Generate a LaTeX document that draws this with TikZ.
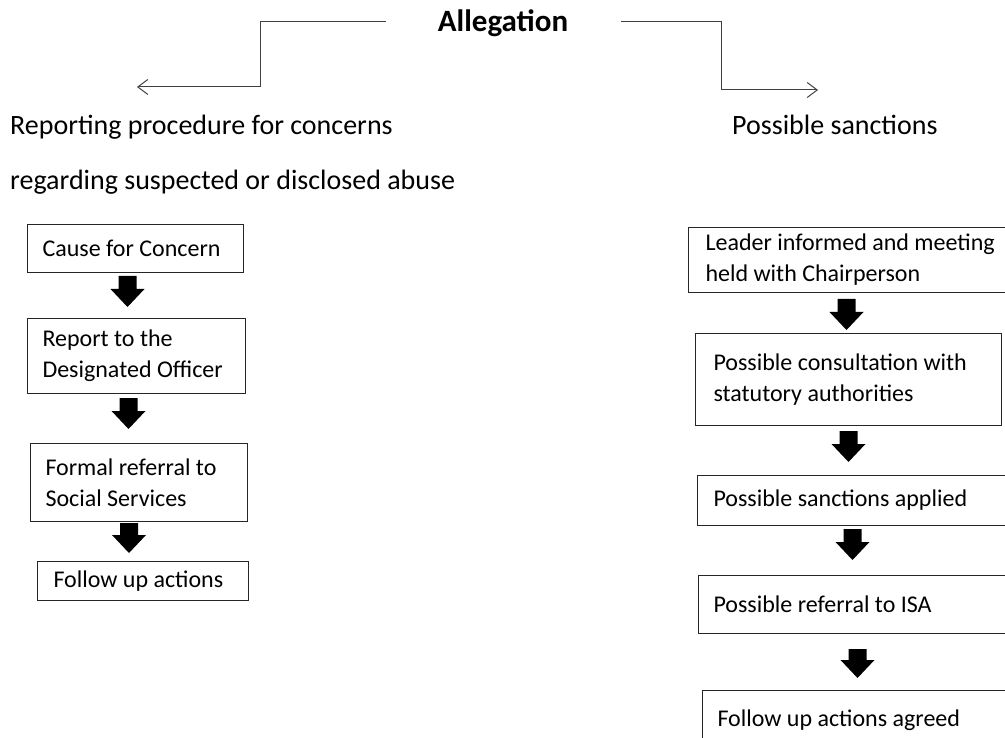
\documentclass[tikz,border=0pt]{standalone}
\usepackage{fontspec}
\setmainfont{Carlito}
\usetikzlibrary{calc,arrows.meta}

\begin{document}
\begin{tikzpicture}[x=1pt, y=-1pt,
    txt/.style={font=\fontsize{28}{34}\selectfont, inner sep=0pt, anchor=base west},
    box/.style={draw=black!85, line width=1pt, anchor=north west, align=flush left,
        font=\fontsize{24}{31}\selectfont, inner xsep=15pt, inner ysep=0pt},
    elbow/.style={draw=black!75, line width=1pt, -{Straight Barb[length=10pt, width=15pt]}},
    blockarr/.style={fill=black, to path={let \p1=(\tikztostart), \p2=(\tikztotarget) in
        (\x1-9pt,\y1) -- (\x1+9pt,\y1) -- (\x1+9pt,\y2+18pt) -- (\x1+17pt,\y2+18pt)
        -- (\x1,\y2) -- (\x1-17pt,\y2+18pt) -- (\x1-9pt,\y2+18pt) -- cycle}}]
\clip (0,0) rectangle (1005,738);
%\draw[thin, opacity=0.5] (0,0) grid[step=50] (1005,738);

%%% titre
\node[inner sep=0pt, anchor=base, font=\fontsize{31}{34}\selectfont\bfseries] (alleg) at (503,32) {Allegation};
\node[txt] (hleft1) at (10,135) {Reporting procedure for concerns};
\node[txt] (hleft2) at (10,190) {regarding suspected or disclosed abuse};
\node[txt] (hright) at (732,135) {Possible sanctions};

% free ends
\coordinate (lend) at (137,87);
\coordinate (rend) at (818,90);

% top links
\draw[elbow] ([xshift=-52pt]alleg.west |- 0,22) -| ([xshift=123pt]lend) -- (lend);
\draw[elbow] ([xshift=53pt]alleg.east |- 0,22) -| ([xshift=-97pt]rend) -- (rend);

%%% left column
\node[box, text width=186pt, minimum height=48pt] (lb1) at (27,224) {Cause for Concern};
\node[box, text width=188pt, minimum height=75pt] (lb2) at (27,318) {Report to the\\Designated Officer};
\node[box, text width=187pt, minimum height=78pt] (lb3) at (30,443) {Formal referral to\\Social Services};
\node[box, text width=179pt, inner xsep=16pt, minimum height=39pt] (lb4) at (37,561) {Follow up actions};

\path[blockarr] ([xshift=-8pt, yshift=-3pt]lb1.south) to ([xshift=-8pt, yshift=11pt]lb2.north);
\path[blockarr] ([xshift=-8pt, yshift=-4pt]lb2.south) to ([xshift=-8pt, yshift=14pt]lb3.north);
\path[blockarr] ([xshift=-10pt, yshift=-1pt]lb3.south) to ([xshift=-10pt, yshift=8pt]lb4.north);

%%% right column
\node[box, text width=300pt, inner xsep=17pt, minimum height=65pt] (rb1) at (688,227) {Leader informed and meeting\\held with Chairperson};
\node[box, text width=270pt, inner xsep=18pt, minimum height=92pt] (rb2) at (695,333) {Possible consultation with\\statutory authorities};
\node[box, text width=278pt, inner xsep=16pt, minimum height=50pt] (rb3) at (697,475) {Possible sanctions applied};
\node[box, text width=288pt, minimum height=58pt] (rb4) at (698,575) {Possible referral to ISA};
\node[box, text width=280pt, minimum height=60pt] (rb5) at (702,690) {Follow up actions agreed};

\path[blockarr] ([xshift=-9pt, yshift=-6pt]rb1.south) to ([xshift=-9pt, yshift=3pt]rb2.north);
\path[blockarr] ([yshift=-5pt]rb2.south) to ([yshift=13pt]rb3.north);
\path[blockarr] ([yshift=-3pt]rb3.south) to ([yshift=15pt]rb4.north);
\path[blockarr] ([yshift=-15pt]rb4.south) to ([yshift=12pt]rb5.north);

\end{tikzpicture}
\end{document}
